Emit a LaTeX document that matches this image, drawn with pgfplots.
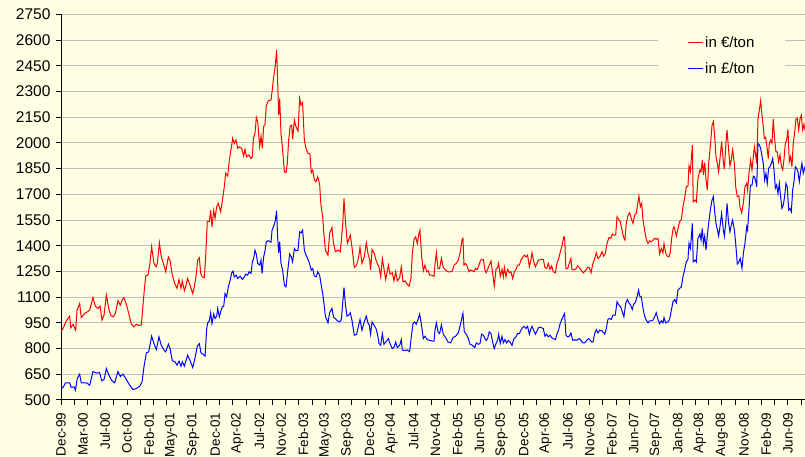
\documentclass[border=0pt]{standalone}
\usepackage{pgfplots}
\pgfplotsset{compat=1.18}
\usepackage{fontspec}
\setmainfont{Liberation Sans}
\definecolor{bgc}{RGB}{255,255,227}
\definecolor{gridc}{RGB}{190,190,190}
\begin{document}
\begin{tikzpicture}
\fill[bgc] (0pt,0pt) rectangle (805pt,457pt);
\useasboundingbox (0pt,0pt) rectangle (805pt,457pt);
\begin{axis}[
  at={(61pt,57pt)}, anchor=south west,
  scale only axis, width=744pt, height=385.7pt,
  xmin=0, xmax=506.6, ymin=500, ymax=2750,
  axis lines*=left,
  axis line style={black, line width=1pt, -},
  ytick={500,650,...,2750},
  scaled y ticks=false,
  /pgf/number format/1000 sep={},
  /pgf/number format/assume math mode=true,
  ymajorgrids, grid style={gridc, line width=1pt},
  xtick={0,15,...,495},
  xticklabels={Dec-99,Mar-00,Jul-00,Oct-00,Feb-01,May-01,Sep-01,Dec-01,Apr-02,Jul-02,Nov-02,Feb-03,May-03,Sep-03,Dec-03,Apr-04,Jul-04,Nov-04,Feb-05,Jun-05,Sep-05,Dec-05,Apr-06,Jul-06,Nov-06,Feb-07,Jun-07,Sep-07,Jan-08,Apr-08,Aug-08,Nov-08,Feb-09,Jun-09},
  minor xtick={0,9,...,504},
  tick align=outside, major tick length=5pt, minor tick length=5pt,
  tick style={black, line width=1pt},
  major x tick style={draw=none},
  y tick label style={font=\fontsize{15.5}{17}\selectfont, xshift=-2pt},
  x tick label style={font=\fontsize{13.5}{16}\selectfont, yshift=-4pt, rotate=90, anchor=east},
  legend style={at={(0.8024,0.9722)}, anchor=north west, draw=none, fill=bgc,
    font=\fontsize{15}{17}\selectfont, inner xsep=29pt, inner ysep=9pt, row sep=10pt},
  legend cell align=left,
  legend image code/.code={\draw[#1, line width=1pt] (0pt,0pt) -- (15pt,0pt);},
]
\addplot[red, line width=1pt] coordinates {
(0,898)(1.4,917)(3.6,962)(5.9,989)(6.6,921)(8.2,942)(10,907)(10.9,1024)(12.7,1063)(13.8,981)(16.1,1005)(17.9,1014)(19.5,1024)(21.8,1098)(23.4,1047)(25.2,1034)(26.6,1047)(27.9,966)(29.3,995)(30.9,1112)(32.5,1034)(33.8,995)(35.4,985)(37,1005)(38.8,1079)(40.4,1053)(41.8,1086)(42.9,1096)(44.5,1059)(46.1,1005)(47.9,942)(49.7,927)(51.3,942)(52.9,935)(54.7,938)(56.5,1121)(57.7,1225)(59.2,1229)(60.4,1287)(61.7,1394)(63.3,1297)(64.7,1277)(65.6,1297)(67,1417)(68.3,1335)(69.7,1297)
(71.3,1248)(73.1,1335)(74.2,1316)(75.8,1229)(77.6,1176)(79,1151)(80.3,1203)(81.7,1151)(82.6,1195)(84,1138)(84.9,1162)(86.2,1209)(87.8,1170)(89.7,1121)(90.8,1162)(91.9,1218)(93.1,1316)(94.2,1330)(95.1,1240)(96.2,1218)(97.6,1214)(98.5,1335)(99.6,1540)(101,1540)(101.9,1608)(102.8,1510)(104,1606)(104.9,1559)(106,1627)(107.1,1647)(108.7,1598)(110.1,1676)(111.2,1744)(112.1,1822)(113.5,1806)(114.6,1900)(115.8,1962)(116.9,2026)(118,1997)(119.2,2016)(120.3,1968)(121.4,1977)(123,1968)(124.4,1923)(125.3,1962)(126.4,1919)(128,1929)(129.4,1909)(130.3,1919)(131,2026)(132.1,2055)(133,2149)(133.9,2125)(135.3,1977)(136.2,2040)(137.1,1968)(138,2096)(138.9,2106)(139.8,2215)(141.2,2246)(143,2250)
(143.7,2298)(144.8,2386)(145.9,2448)(146.8,2542)(147.5,2367)(148.2,2162)(148.9,2260)(149.8,2055)(150.9,1958)(152.1,1832)(153.2,1826)(154.1,1880)(155,2016)(156.1,2098)(157.1,2104)(157.7,2020)(158.9,2133)(160,2094)(161.4,2069)(162.5,2260)(163.4,2221)(164.5,2235)(165.7,2016)(166.8,1968)(168.2,1939)(169.5,1935)(170.4,1826)(171.4,1842)(172.5,1783)(173.6,1773)(174.8,1802)(176.1,1760)(177,1637)(178.2,1569)(178.8,1491)(180,1374)(181.8,1345)(182.9,1472)(184.5,1506)(185.4,1423)(186.8,1365)(188.6,1374)(190.2,1365)(191.8,1520)(192.7,1676)(193.6,1549)(195,1413)(197,1462)(198.1,1394)(199.7,1273)(201.3,1287)(202.7,1335)(203.6,1390)(204.9,1297)(206.5,1335)(207.9,1417)(209,1355)(210.2,1316)(210.8,1258)(211.8,1378)(213.1,1359)(214.5,1316)(215.8,1287)
(216.5,1277)(217.7,1219)(218.8,1326)(219.9,1267)(221.1,1203)(222.9,1287)(224,1234)(225.6,1242)(226.7,1195)(227.9,1248)(229,1195)(230.6,1214)(231.7,1277)(232.9,1189)(234.2,1195)(235.6,1176)(237,1164)(238.3,1209)(239.2,1355)(240.4,1437)(241.5,1452)(242.6,1413)(243.8,1475)(244.4,1491)(245.6,1335)(246.7,1254)(247.8,1287)(249,1248)(250.1,1254)(251,1228)(252.4,1228)(254,1222)(254.7,1297)(255.6,1359)(256.7,1267)(257.8,1267)(259,1326)(260.3,1273)(261.9,1258)(263.5,1248)(265.3,1248)(266.5,1254)(267.6,1287)(269.2,1297)(270.5,1316)(271.9,1365)(273,1433)(273.7,1443)(274.4,1287)(275.5,1297)(276.7,1277)(277.8,1248)(278.9,1258)(280.1,1254)(281.2,1248)(282.3,1267)(283.5,1262)(284.6,1287)(285.7,1316)(287.6,1320)(288.7,1258)
(289.4,1242)(290.5,1262)(291.6,1287)(292.8,1311)(293.9,1242)(295,1164)(296.2,1262)(297.3,1273)(298,1297)(299.1,1222)(300.3,1262)(301.2,1219)(301.9,1273)(303,1219)(304.1,1262)(305.3,1242)(306.4,1248)(307.5,1209)(308.7,1248)(309.8,1262)(310.9,1287)(312.1,1287)(313.2,1316)(314.3,1332)(315.5,1345)(316.6,1335)(317.7,1345)(318.9,1277)(320,1316)(320.7,1359)(321.8,1311)(323,1277)(324.1,1297)(325.2,1316)(326.8,1320)(328.4,1320)(329.5,1273)(330.7,1267)(331.8,1297)(333,1262)(334.1,1282)(335.2,1248)(336.6,1242)(337.7,1297)(338.9,1326)(340,1365)(341.1,1398)(342.3,1452)(342.9,1452)(343.8,1267)(345,1267)(346.1,1297)(347.2,1326)(347.9,1262)(349.1,1258)(350.7,1267)(351.8,1282)(352.9,1273)(354.1,1258)(355.6,1242)(357,1254)(358.6,1273)(359.7,1273)(360.9,1242)
(362.2,1297)(363.4,1326)(364.5,1359)(365.6,1326)(366.8,1335)(368.4,1365)(369.5,1339)(370.6,1355)(371.8,1413)(373.1,1448)(374.3,1443)(375.4,1468)(376.5,1462)(377.7,1462)(378.6,1569)(379.7,1553)(380.8,1540)(382,1491)(383.1,1448)(384,1433)(384.9,1530)(386.1,1578)(387.2,1592)(388.3,1559)(389.5,1530)(390.6,1578)(391.7,1588)(392.9,1656)(393.5,1690)(394.5,1627)(395.4,1647)(396.3,1549)(397.4,1491)(398.5,1437)(399.7,1413)(400.8,1429)(401.9,1423)(403.1,1433)(404.2,1443)(405.3,1437)(406.5,1443)(407.6,1351)(408.8,1384)(409.9,1359)(410.6,1413)(411.7,1359)(412.8,1339)(414,1335)(414.9,1365)(415.8,1443)(416.7,1495)(417.4,1510)(418.3,1481)(419,1456)(420.1,1500)(421.2,1540)(422.4,1553)(423.5,1627)(424.6,1676)(425.8,1744)(426.9,1748)(427.6,1865)(428.5,1832)(429.2,1909)(429.9,1987)(430.5,1656)(431.7,1666)(432.6,1656)(433.7,1793)(435.1,1842)
(435.8,1832)(436.7,1900)(437.4,1813)(438.3,1884)(439.2,1783)(440.1,1725)(441,1880)(442.3,1997)(443.3,2104)(444.2,2125)(445.1,2036)(446,1919)(446.9,1880)(447.8,1832)(448.7,1909)(449.8,2007)(451,1890)(451.7,1845)(452.8,2007)(453.5,2075)(454.6,1958)(455.5,1865)(456.4,1900)(457.3,1958)(458.5,1880)(459.4,1744)(460.5,1686)(461.6,1690)(462.3,1627)(463.5,1592)(464.6,1647)(465.7,1744)(466.9,1764)(467.5,1725)(468.4,1818)(469.6,1900)(470.5,1842)(471.4,1919)(472.1,1977)(473,1929)(473.7,1880)(474.6,2143)(475.5,2191)(476.4,2246)(477.3,2162)(478.2,2094)(478.9,2026)(479.8,2032)(480.7,1977)(481.6,1909)(482.3,1997)(483.2,2016)(484.1,1997)(485,2139)(485.9,2026)(486.8,1948)(487.7,1948)(488.6,1890)(489.6,1929)(490.5,1865)(491.4,1842)(492.3,1904)(493.2,1997)(494.1,2016)(495,2079)(495.9,1890)(496.8,1919)(497.7,1861)(498.6,1997)(499.5,2055)(500.4,2139)(501.4,2143)(502.3,2075)(503.2,2139)(504.1,2162)(505,2075)(505.9,2108)(506.6,2075)
};
\addlegendentry{in €/ton}
\addplot[blue, line width=1pt] coordinates {
(0,567)(1.4,573)(3,600)(5.9,600)(7,573)(8.9,577)(9.8,557)(11.1,625)(12.7,651)(13.8,600)(15.7,600)(17.5,600)(19.5,586)(21.8,666)(24.1,657)(26.3,660)(27.7,612)(29.3,620)(30.9,684)(32.5,647)(34.3,616)(36.5,600)(38.8,666)(40.4,637)(42.2,651)(44.5,620)(46.8,586)(49,561)(51.3,567)(53.6,580)(55.2,606)(56.5,694)(58.1,775)(59.7,781)(61.7,872)(63.3,829)(64.9,794)(66.7,868)(68.3,819)(69.9,794)
(71.3,781)(73.1,826)(74.2,801)(75.8,729)(77.6,723)(79,703)(80.3,727)(81.7,697)(82.6,723)(84,697)(86.2,761)(87.8,732)(89.7,689)(91.2,742)(92.8,814)(94.2,829)(95.3,775)(96.5,768)(98.1,756)(99.2,917)(99.9,950)(101,962)(101.9,1009)(102.8,946)(104,1001)(104.9,975)(106,989)(106.7,1034)(107.8,985)(108.7,1014)(109.9,1044)(110.8,1047)(111.7,1121)(112.8,1102)(113.9,1160)(115.1,1195)(116.2,1240)(117.1,1252)(118,1218)(119.2,1228)(120.3,1209)(121.9,1222)(123.5,1203)(124.8,1218)(125.7,1234)(127.1,1228)(128,1248)(129.4,1238)(130.3,1306)(131.2,1326)(132.1,1374)(133,1351)(133.9,1297)(135.3,1287)(136.2,1316)(136.9,1238)(138,1335)(138.9,1370)(139.8,1423)(141.2,1429)(143,1421)
(143.7,1491)(144.8,1514)(145.9,1545)(146.8,1604)(147.5,1452)(148.2,1359)(148.9,1423)(149.8,1297)(150.9,1258)(152.1,1170)(153.2,1160)(154.3,1248)(155.7,1351)(156.8,1335)(157.7,1306)(158.9,1384)(160,1370)(161.4,1374)(162.5,1481)(163.6,1475)(164.5,1491)(165.7,1374)(166.8,1345)(168.2,1320)(169.1,1300)(170.4,1258)(171.4,1267)(172.5,1223)(173.9,1219)(174.8,1248)(176.1,1228)(177,1180)(178.2,1121)(178.8,1083)(180,989)(181.8,950)(182.9,1009)(184.5,1034)(185.7,981)(186.8,975)(188.1,962)(189.7,956)(190.9,970)(191.8,1063)(192.7,1156)(193.6,1063)(194.7,989)(195.9,995)(197,1009)(198.1,966)(199.7,878)(201.3,883)(202.7,937)(203.6,970)(204.9,907)(206.5,956)(207.9,989)(209,950)(209.9,937)(210.8,884)(211.8,956)(213.1,937)(214.5,917)(215.8,872)
(216.5,830)(217.7,819)(218.8,887)(219.9,825)(221.1,838)(222.9,858)(224,830)(225.6,800)(226.7,806)(227.9,838)(229,806)(230.6,819)(231.7,852)(232.4,792)(234.2,788)(235.8,792)(237.4,782)(238.5,868)(239.7,946)(240.8,956)(241.9,942)(243.1,970)(244.2,1001)(245.3,946)(246.7,858)(247.8,872)(249.4,852)(251,848)(252.8,844)(254,844)(254.7,911)(255.6,950)(256.7,897)(257.8,887)(259,937)(260.3,884)(261.9,864)(263.5,838)(265.3,833)(266.9,864)(268.7,872)(270.5,891)(271.9,937)(273,981)(273.7,1005)(274.6,897)(276,884)(277.4,858)(278.5,825)(280.1,819)(281.7,806)(282.8,833)(284.2,825)(285.3,830)(286.4,884)(287.6,878)(288.7,858)
(289.4,848)(290.5,858)(291.6,897)(292.8,887)(293.9,838)(295,800)(296.2,830)(297.3,848)(298,884)(299.1,830)(300.3,872)(301.2,833)(302.3,852)(303.4,833)(304.6,848)(305.7,838)(307.1,819)(308.4,858)(309.8,868)(310.9,887)(312.1,887)(313.2,907)(314.3,923)(315.5,930)(316.6,917)(317.7,930)(318.9,884)(320,917)(320.7,930)(321.8,907)(323,884)(324.1,903)(325.2,923)(326.8,923)(328.4,917)(329.5,872)(330.7,884)(331.8,868)(333,878)(334.1,864)(335.2,858)(336.6,852)(337.7,884)(338.9,911)(340,950)(341.1,970)(342.3,995)(342.9,1005)(343.8,878)(345,868)(346.1,872)(347.2,891)(348.4,848)(349.5,852)(350.7,848)(351.8,852)(352.9,858)(354.1,848)(355.2,833)(356.6,833)(357.9,848)(359.3,858)(360.4,848)(361.5,838)
(362.2,838)(363.4,887)(364.5,911)(365.6,891)(366.8,907)(368.4,903)(370.2,884)(371.3,917)(372.4,970)(373.6,975)(374.7,970)(375.8,995)(377.4,995)(378.6,1073)(379.9,1053)(381.1,1044)(382.2,1014)(383.3,985)(384.5,1063)(385.6,1086)(386.7,1067)(387.9,1053)(389,1028)(389.9,1059)(391,1067)(392.2,1102)(393.3,1141)(394,1106)(395.1,1102)(396.3,1034)(397.4,989)(398.5,966)(399.7,950)(400.8,962)(401.9,962)(403.1,966)(404.2,985)(405.3,1009)(406.5,970)(407.6,946)(408.8,962)(409.9,950)(410.6,981)(411.7,950)(413.3,956)(414.4,970)(415.6,1024)(416.7,1073)(417.8,1086)(419,1067)(420.1,1141)(421.2,1151)(422.4,1160)(423.5,1219)(424.6,1258)(425.8,1306)(426.9,1320)(427.6,1413)(428.5,1384)(429.2,1452)(429.9,1530)(430.5,1306)(431.7,1316)(432.6,1306)(433.7,1443)(435.1,1468)
(435.8,1433)(436.7,1501)(437.4,1413)(438.3,1456)(439.2,1374)(440.1,1462)(441,1530)(442.3,1618)(443.3,1666)(444.2,1686)(445.1,1598)(446,1530)(446.9,1495)(447.8,1456)(448.7,1510)(449.8,1588)(451,1491)(451.7,1456)(452.8,1549)(453.5,1647)(454.6,1530)(455.5,1481)(456.4,1520)(457.3,1549)(458.5,1491)(459.4,1413)(460.5,1293)(461.6,1306)(462.5,1326)(463.7,1268)(464.6,1355)(465.7,1413)(466.9,1510)(467.5,1491)(468.4,1608)(469.4,1754)(470.5,1754)(471.4,1806)(472.1,1802)(473,1779)(473.7,1744)(474.6,1997)(475.5,1987)(476.4,1968)(477.3,1923)(478.2,1880)(479.1,1783)(480,1822)(480.9,1764)(481.8,1852)(482.7,1861)(483.7,1880)(484.6,1909)(485.5,1842)(486.4,1735)(487.3,1754)(488.2,1705)(489.1,1764)(490,1686)(490.9,1618)(491.8,1637)(492.7,1686)(493.6,1764)(494.5,1744)(495.5,1608)(496.4,1618)(497.3,1598)(498.2,1725)(499.1,1774)(500,1861)(500.9,1852)(501.8,1832)(502.7,1774)(503.6,1832)(504.5,1880)(505.4,1822)(506.6,1861)
};
\addlegendentry{in £/ton}
\end{axis}
\end{tikzpicture}
\end{document}
